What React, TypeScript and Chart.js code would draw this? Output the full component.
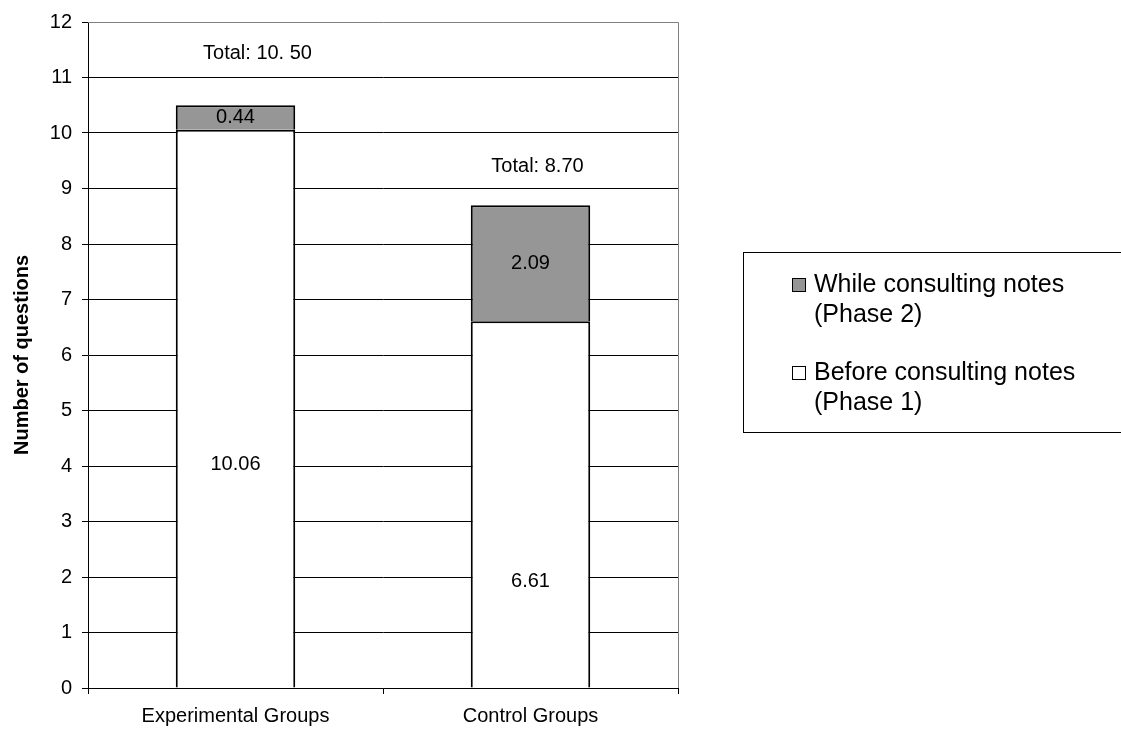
import React, { useEffect, useRef } from "react";
import { Chart, registerables } from "chart.js";

Chart.register(...registerables);

// ---- data ----
const categories = ["Experimental Groups", "Control Groups"];
const phase1Values = [10.06, 6.61];
const phase2Values = [0.44, 2.09];
const totalLabels = ["Total: 10. 50", "Total: 8.70"];
const phase1Labels = ["10.06", "6.61"];
const phase2Labels = ["0.44", "2.09"];
const legendPhase2 = ["While consulting notes", "(Phase 2)"];
const legendPhase1 = ["Before consulting notes", "(Phase 1)"];
const yTitle = "Number of questions";

// ---- style / placement constants ----
const FONT = "'Liberation Sans', Arial, sans-serif";
const GRAY = "#969696";
// value (in axis units) at which the phase 1 labels sit inside the white bars
const PHASE1_LABEL_AT = [4.03, 1.92];
// pixel offsets of the "Total" text boxes relative to the bar top / centre
const TOTAL_OFFSETS = [
  { dx: 22, dy: -52 },
  { dx: 7, dy: -39 },
];

const overlayPlugin = {
  id: "overlay",
  afterDatasetsDraw(chart: any) {
    const ctx = chart.ctx;
    const ca = chart.chartArea;
    const yScale = chart.scales.y;
    const meta1 = chart.getDatasetMeta(0);
    const meta2 = chart.getDatasetMeta(1);
    ctx.save();
    // plot border (top and right), gray
    ctx.strokeStyle = "#808080";
    ctx.lineWidth = 1;
    ctx.beginPath();
    ctx.moveTo(ca.left, ca.top + 0.5);
    ctx.lineTo(ca.right + 0.5, ca.top + 0.5);
    ctx.lineTo(ca.right + 0.5, ca.bottom);
    ctx.stroke();

    ctx.fillStyle = "#000";
    ctx.font = `20px ${FONT}`;
    ctx.textAlign = "center";
    ctx.textBaseline = "middle";
    meta2.data.forEach((bar: any, i: number) => {
      const cy = (bar.y + bar.base) / 2;
      ctx.fillText(phase2Labels[i], bar.x, cy);
    });
    meta1.data.forEach((bar: any, i: number) => {
      ctx.fillText(phase1Labels[i], bar.x, yScale.getPixelForValue(PHASE1_LABEL_AT[i]));
    });
    meta2.data.forEach((bar: any, i: number) => {
      const o = TOTAL_OFFSETS[i];
      ctx.fillText(totalLabels[i], bar.x + o.dx, bar.y + o.dy);
    });

    // y axis title
    ctx.save();
    ctx.translate(22, (ca.top + ca.bottom) / 2);
    ctx.rotate(-Math.PI / 2);
    ctx.font = `bold 20px ${FONT}`;
    ctx.fillText(yTitle, 0, 0);
    ctx.restore();

    // legend
    const lx = 743.5;
    const ly = 252.5;
    ctx.strokeStyle = "#000";
    ctx.lineWidth = 1;
    ctx.strokeRect(lx, ly, 400, 180);
    const items = [
      { lines: legendPhase2, fill: GRAY, y: 285 },
      { lines: legendPhase1, fill: "#ffffff", y: 373 },
    ];
    ctx.font = `25px ${FONT}`;
    ctx.textAlign = "left";
    items.forEach((it) => {
      ctx.fillStyle = it.fill;
      ctx.fillRect(792, it.y - 7, 14, 14);
      ctx.strokeStyle = "#000";
      ctx.lineWidth = 1;
      ctx.strokeRect(792.5, it.y - 6.5, 13, 13);
      ctx.fillStyle = "#000";
      it.lines.forEach((t, k) => {
        ctx.fillText(t, 814, it.y + k * 30);
      });
    });
    ctx.restore();
  },
};

export default function App() {
  const canvasRef = useRef<HTMLCanvasElement | null>(null);

  useEffect(() => {
    const canvas = canvasRef.current;
    if (!canvas) return;
    const chart = new Chart(canvas, {
      type: "bar",
      data: {
        labels: categories,
        datasets: [
          {
            label: "Before consulting notes (Phase 1)",
            data: phase1Values,
            backgroundColor: "#ffffff",
            borderColor: "#000000",
            borderWidth: 2,
            borderSkipped: "bottom",
            categoryPercentage: 1,
            barPercentage: 0.405,
          },
          {
            label: "While consulting notes (Phase 2)",
            data: phase2Values,
            backgroundColor: GRAY,
            borderColor: "#000000",
            borderWidth: 2,
            borderSkipped: "bottom",
            categoryPercentage: 1,
            barPercentage: 0.405,
          },
        ],
      },
      options: {
        animation: false,
        responsive: false,
        maintainAspectRatio: false,
        devicePixelRatio: 1,
        layout: { padding: { left: 0, top: 18, right: 443, bottom: 0 } },
        plugins: {
          legend: { display: false },
          tooltip: { enabled: false },
          title: { display: false },
        },
        scales: {
          x: {
            stacked: true,
            offset: true,
            grid: {
              display: true,
              offset: true,
              drawOnChartArea: false,
              drawTicks: true,
              tickLength: 6,
              color: "#000",
            },
            border: { display: true, color: "#000", width: 1 },
            ticks: {
              color: "#000",
              font: { family: FONT, size: 20 },
              padding: 10,
              maxRotation: 0,
            },
            afterFit(scale: any) {
              scale.height = 46;
            },
          },
          y: {
            stacked: true,
            min: 0,
            max: 12,
            grid: {
              color: (c: any) => (c.tick && c.tick.value === 12 ? "rgba(0,0,0,0)" : "#000"),
              lineWidth: 1,
              tickLength: 6,
              tickColor: "#000",
            },
            border: { display: true, color: "#000", width: 1 },
            ticks: {
              stepSize: 1,
              color: "#000",
              font: { family: FONT, size: 20 },
              padding: 10,
            },
            afterFit(scale: any) {
              scale.width = 88;
            },
          },
        },
      },
      plugins: [overlayPlugin],
    });
    return () => chart.destroy();
  }, []);

  return (
    <div style={{ position: "absolute", left: 0, top: 0, width: 1121, height: 734, background: "#fff" }}>
      <canvas ref={canvasRef} width={1121} height={734} />
    </div>
  );
}
